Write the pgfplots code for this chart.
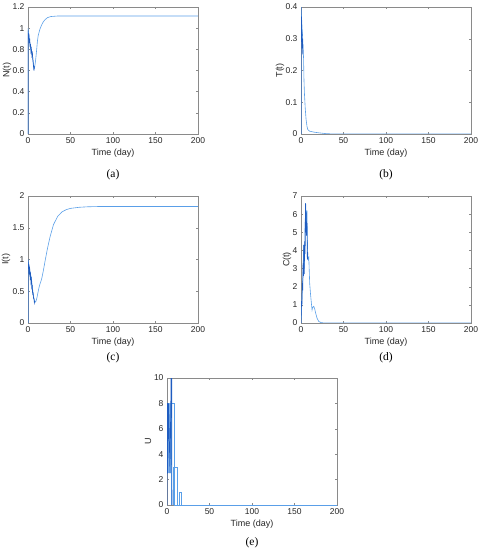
\documentclass[border=0pt]{standalone}
\usepackage{fontspec}
\setmainfont{Liberation Sans}
\newfontfamily\capfont{Liberation Serif}
\usepackage{pgfplots}
\pgfplotsset{compat=1.18}
\definecolor{lblue}{HTML}{5A9FE8}
\definecolor{dblue}{HTML}{1F5CC0}
\definecolor{axgray}{HTML}{8A8A8A}
\pgfplotsset{
  mat/.style={
    scale only axis, width=170pt, height=127pt, anchor=south west,
    xmin=0, xmax=200, xtick={0,50,...,200},
    tick align=inside, major tick length=2pt,
    xtick pos=both, ytick pos=both,
    axis line style={axgray, line width=0.5pt},
    every tick/.style={axgray, line width=0.4pt},
    tick label style={font=\fontsize{8.5}{9}\selectfont, text=black!85},
    /pgf/number format/assume math mode=true,
    label style={font=\fontsize{9}{10}\selectfont, text=black!85},
    xlabel={Time (day)},
    x label style={at={(axis description cs:0.5,0)}, anchor=center, yshift=-19pt},
    clip mode=individual,
  },
  lite/.style={lblue, line width=0.6pt, mark=none},
  dark/.style={dblue, line width=0.7pt, mark=none},
}
\newcommand{\subcap}[2]{\node[font=\capfont\fontsize{11.5}{13}\selectfont] at (axis description cs:0.5,0) [yshift=-#1pt] {#2};}
\begin{document}
\begin{tikzpicture}[x=1pt,y=1pt]
\path[use as bounding box] (0,0) rectangle (479,550);

% (a) N(t)
\begin{axis}[mat, at={(28pt,416pt)}, ymin=0, ymax=1.2, ytick={0,0.2,...,1.2},
  yticklabels={0,0.2,0.4,0.6,0.8,1,1.2},
  ylabel={N(t)}, y label style={at={(axis description cs:-0.1235,0.5)}, anchor=center}]
\addplot[lite] coordinates {(0,0)(0,1.0)(1,0.93)(2,0.87)(3,0.81)(4,0.77)(5,0.76)(6,0.69)(7,0.63)(7.5,0.62)(8,0.64)(9,0.7)(10,0.78)(11,0.87)(12,0.93)(14,0.99)(16,1.03)(18,1.06)(20,1.08)(23,1.10)(27,1.11)(35,1.115)(200,1.115)};
\addplot[dark] coordinates {(0,0)(0,0.98)(0.5,0.9)(1,0.95)(1.5,0.86)(2,0.9)(2.5,0.82)(3,0.85)(3.5,0.78)(4,0.8)(4.5,0.75)(5,0.78)(5.5,0.72)(6,0.68)(6.5,0.64)(7,0.6)(7.5,0.64)};
\subcap{41}{(a)}
\end{axis}

% (b) T(t)
\begin{axis}[mat, at={(301pt,416pt)}, ymin=0, ymax=0.4, ytick={0,0.1,...,0.4},
  yticklabels={0,0.1,0.2,0.3,0.4},
  ylabel={T(t)}, y label style={at={(axis description cs:-0.1235,0.5)}, anchor=center}]
\addplot[lite] coordinates {(0,0)(0,0.4)(1,0.35)(2,0.3)(3,0.24)(3.5,0.17)(4,0.13)(5,0.08)(6,0.045)(7,0.025)(8,0.014)(10,0.009)(15,0.006)(20,0.004)(30,0.001)(40,0)(200,0)};
\addplot[dark] coordinates {(0,0)(0,0.4)(0.3,0.33)(0.6,0.37)(0.9,0.29)(1.2,0.32)(1.5,0.27)(1.8,0.3)(2.2,0.25)};
\subcap{41}{(b)}
\end{axis}

% (c) I(t)
\begin{axis}[mat, at={(28pt,227pt)}, ymin=0, ymax=2, ytick={0,0.5,...,2},
  yticklabels={0,0.5,1,1.5,2},
  ylabel={I(t)}, y label style={at={(axis description cs:-0.129,0.5)}, anchor=center}]
\addplot[lite] coordinates {(0,0)(0,1.0)(1,0.9)(2,0.83)(3,0.77)(4,0.7)(5,0.58)(6,0.47)(7,0.39)(8,0.34)(9,0.33)(10,0.37)(11,0.43)(12,0.5)(13,0.56)(14,0.61)(15,0.65)(16,0.69)(18,0.82)(20,0.97)(23,1.18)(26,1.36)(30,1.55)(35,1.68)(40,1.75)(45,1.785)(50,1.805)(60,1.822)(70,1.83)(85,1.835)(200,1.835)};
\addplot[dark] coordinates {(0,0)(0,1.0)(0.5,0.88)(1,0.93)(1.5,0.8)(2,0.84)(2.5,0.72)(3,0.76)(3.5,0.64)(4,0.68)(4.5,0.55)(5,0.57)(5.5,0.46)(6,0.47)(6.5,0.39)(7,0.38)(7.5,0.32)(8,0.35)};
\subcap{35}{(c)}
\end{axis}

% (d) C(t)
\begin{axis}[mat, at={(301pt,227pt)}, ymin=0, ymax=7, ytick={0,1,...,7},
  ylabel={C(t)}, y label style={at={(axis description cs:-0.082,0.5)}, anchor=center}]
\addplot[lite] coordinates {(0,0)(1.2,1.4)(2.4,2.8)(3.1,4.3)(3.9,3.0)(4.7,5.1)(5.5,6.6)(6.3,5.6)(7,6.2)(7.8,3.8)(8.5,3.5)(9.2,3.6)(10.2,2.2)(11.2,1.6)(12.2,1.1)(13,0.72)(13.6,0.85)(15,0.92)(16,0.8)(17.5,0.5)(19,0.25)(21,0.08)(24,0.015)(30,0)(200,0)};
\addplot[dark] coordinates {(0,0)(0.5,1.2)(1,0.9)(1.5,2.2)(2,1.8)(2.5,3.3)(3,2.6)(3.3,4.3)(3.8,2.7)(4.3,4.5)(4.8,3.8)(5.3,6.6)(5.8,5.0)(6.2,6.1)(6.6,4.8)(7,5.5)(7.5,3.5)(8,3.9)};
\subcap{35}{(d)}
\end{axis}

% (e) U
\begin{axis}[mat, at={(167pt,45pt)}, ymin=0, ymax=10, ytick={0,2,...,10},
  ylabel={U}, y label style={at={(axis description cs:-0.112,0.5)}, anchor=center}]
\addplot[fill=lblue!70, draw=none] coordinates {(0.8,2.5)(5,2.5)(5,8)(0.8,8)} --cycle;
\addplot[lite] coordinates {(5.5,0)(5.5,8)(9,8)(9,0)(200,0)};
\addplot[lite] coordinates {(7.5,0)(7.5,3)(11.8,3)(11.8,0)(14,0)(14,1)(17.3,1)(17.3,0)(200,0)};
\addplot[dark] coordinates {(0,0)(0,8)(0.8,8)(0.8,2.5)(2,8)(3.5,2.5)(4.5,8)(4.8,10)(5.5,10)(5.8,0)(6,0)};
\subcap{38}{(e)}
\end{axis}
\end{tikzpicture}
\end{document}
